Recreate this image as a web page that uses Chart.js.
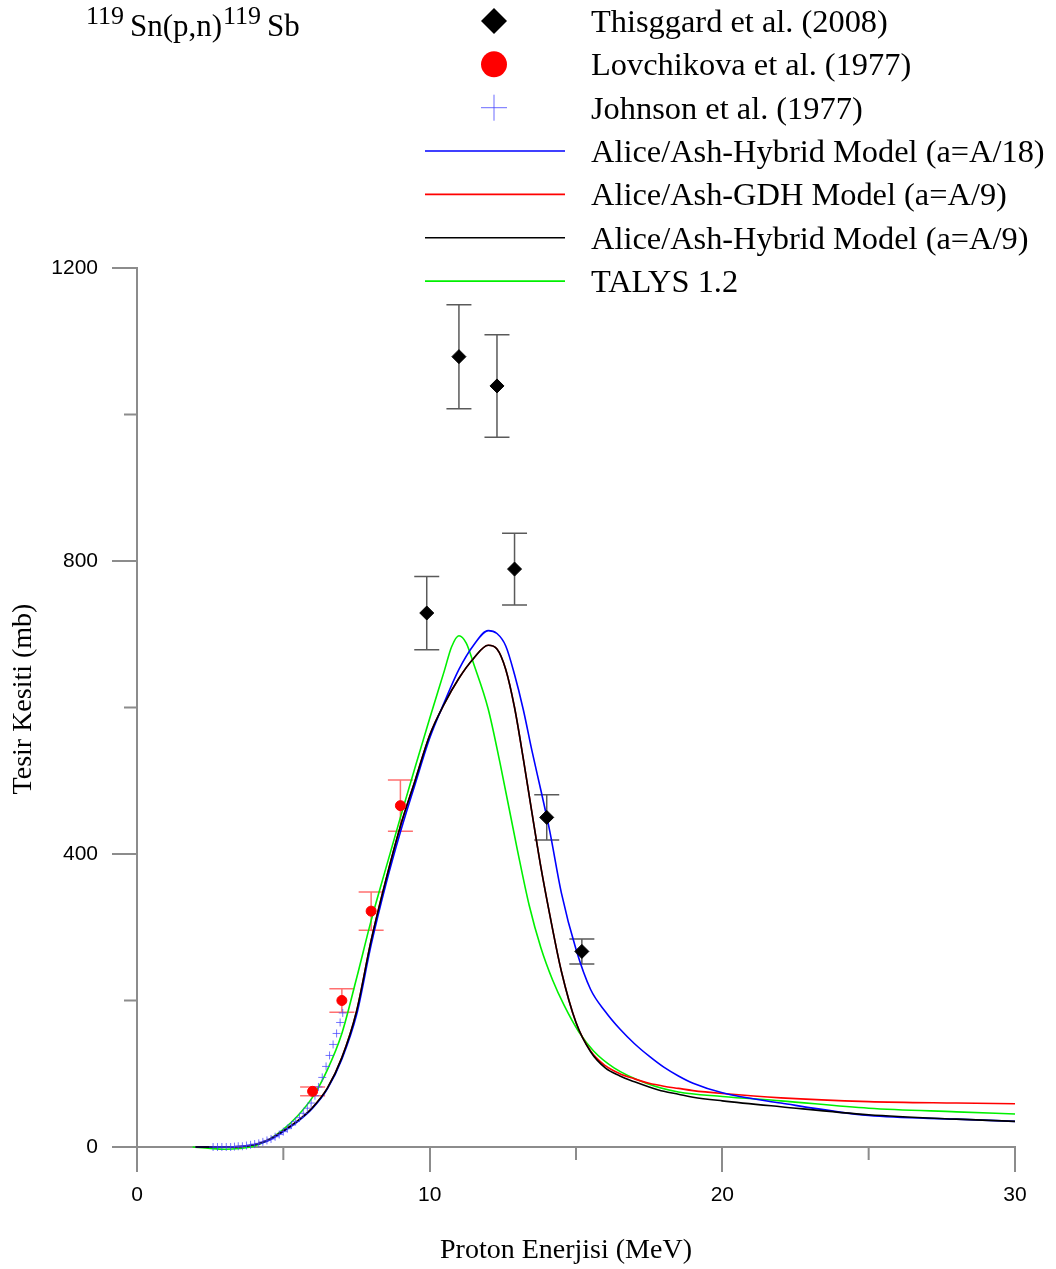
<!DOCTYPE html>
<html>
<head>
<meta charset="utf-8">
<script src="https://cdn.jsdelivr.net/npm/chart.js@4.4.0/dist/chart.umd.min.js"></script>
<style>
  body { margin: 0; background: #fff; }
  #wrap { width: 1056px; height: 1269px; position: relative; }
</style>
</head>
<body>
<div id="wrap"><canvas id="chart"></canvas></div>
<script>
// deney verileri
const thisE = [9.9, 11.0, 12.3, 12.9, 14.0, 15.2];
const thisS = [729, 1079, 1039, 789, 450, 267];
const thisErr = [50, 71, 70, 49, 31, 17];

const lovE = [6.0, 7.0, 8.0, 9.0];
const lovS = [76, 200, 322, 466];
const lovErr = [6, 16, 26, 35];

const johnE = [2.6, 2.75, 2.9, 3.05, 3.2, 3.33, 3.46, 3.6, 3.74, 3.88, 4.02, 4.16, 4.3, 4.44, 4.58, 4.72, 4.86,
  5.0, 5.14, 5.28, 5.42, 5.55, 5.68, 5.82, 5.95, 6.08, 6.2, 6.33, 6.46, 6.58, 6.7, 6.82, 6.94, 7.03];
const johnS = [0, 0, 0, 0, 0, 0.5, 1, 1, 2, 3, 4, 5, 7, 9, 11, 14, 17,
  21, 25, 30, 35, 40, 46, 53, 60, 70, 82, 95, 110, 125, 140, 155, 170, 183];

// model hesaplari
const modelE = [2, 3, 4, 4.5, 5, 5.5, 6, 6.5, 7, 7.5, 8, 8.5, 9, 9.5, 10, 10.5, 11, 11.5, 12, 12.3,
  12.6, 12.9, 13.2, 13.5, 13.8, 14.1, 14.5, 15, 15.5, 16, 16.5, 17, 17.5, 18, 18.5, 19, 20, 22, 25, 28, 30];
const hybrid18 = [0, 0, 3, 9, 21, 35, 53, 79, 120, 180, 276, 358, 430, 495, 558, 607, 652, 685, 705, 701,
  684, 645, 597, 540, 487, 432, 347, 270, 215, 185, 161, 141, 124, 109, 97, 87, 74, 60, 43, 38, 35];
const gdh9 = [0, 0, 3, 10, 22, 36, 54, 80, 122, 185, 282, 364, 438, 500, 562, 605, 640, 667, 685, 680,
  652, 600, 530, 455, 382, 318, 240, 170, 131, 111, 100, 93, 87, 83, 80, 77, 73, 67, 62, 60, 59];
const hybrid9 = [0, 0, 3, 10, 22, 36, 54, 80, 122, 185, 282, 364, 438, 500, 562, 605, 640, 667, 685, 680,
  652, 600, 530, 455, 382, 318, 240, 170, 130, 108, 97, 89, 82, 76, 72, 68, 63, 55, 44, 38, 35];

const talysE = [1.9, 2.5, 3, 3.5, 4, 4.5, 5, 5.5, 6, 6.5, 7, 7.5, 8, 8.5, 9, 9.5, 10, 10.5, 10.75, 11, 11.25, 11.5,
  12, 12.4, 13, 13.4, 13.8, 14.2, 14.6, 15.1, 15.6, 16.3, 17.4, 18.5, 20, 22, 25, 28, 30];
const talysS = [0, -2, -3, -2, 1, 10, 24, 43, 68, 105, 155, 230, 309, 380, 450, 518, 585, 650, 683, 698, 688, 660,
  598, 525, 405, 330, 272, 228, 193, 157, 131, 108, 87, 75, 69, 63, 53, 48, 45];

const xTicks = [0, 10, 20, 30];
const xMinor = [5, 15, 25];
const yTicks = [0, 400, 800, 1200];
const yMinor = [200, 600, 1000];

const SERIF = '"Liberation Serif", "Times New Roman", serif';
const SANS = '"Liberation Sans", Arial, sans-serif';
const AXIS_COLOR = '#8c8c8c';

function pts(xs, ys) {
    return xs.map((x, i) => ({ x: x, y: ys[i] }));
}

function lineSet(label, xs, ys, color) {
    return {
        type: 'line',
        label: label,
        data: pts(xs, ys),
        borderColor: color,
        backgroundColor: color,
        borderWidth: 1.6,
        pointRadius: 0,
        cubicInterpolationMode: 'monotone',
        clip: false
    };
}

// hata cubuklari
const errorBars = {
    id: 'errorBars',
    beforeDatasetsDraw(chart) {
        const ctx = chart.ctx;
        const xs = chart.scales.x, ys = chart.scales.y;
        const sets = [
            { e: thisE, s: thisS, d: thisErr, color: '#5a5a5a' },
            { e: lovE, s: lovS, d: lovErr, color: '#ff7070' }
        ];
        ctx.save();
        ctx.lineWidth = 1.5;
        sets.forEach(set => {
            ctx.strokeStyle = set.color;
            set.e.forEach((e, i) => {
                const px = xs.getPixelForValue(e);
                const top = ys.getPixelForValue(set.s[i] + set.d[i]);
                const bot = ys.getPixelForValue(set.s[i] - set.d[i]);
                ctx.beginPath();
                ctx.moveTo(px, top); ctx.lineTo(px, bot);
                ctx.moveTo(px - 12.5, top); ctx.lineTo(px + 12.5, top);
                ctx.moveTo(px - 12.5, bot); ctx.lineTo(px + 12.5, bot);
                ctx.stroke();
            });
        });
        ctx.restore();
    }
};

// ara cizgiler, basliklar ve lejant
const decorations = {
    id: 'decorations',
    afterDraw(chart) {
        const ctx = chart.ctx;
        const xs = chart.scales.x, ys = chart.scales.y;
        const area = chart.chartArea;
        ctx.save();

        ctx.strokeStyle = AXIS_COLOR;
        ctx.lineWidth = 2;
        ctx.beginPath();
        xMinor.forEach(v => {
            const px = xs.getPixelForValue(v);
            ctx.moveTo(px, area.bottom); ctx.lineTo(px, area.bottom + 13);
        });
        yMinor.forEach(v => {
            const py = ys.getPixelForValue(v);
            ctx.moveTo(area.left - 13, py); ctx.lineTo(area.left, py);
        });
        ctx.stroke();

        ctx.fillStyle = '#000';
        ctx.font = '28px ' + SERIF;
        ctx.textAlign = 'center';
        ctx.textBaseline = 'alphabetic';
        ctx.fillText('Proton Enerjisi (MeV)', 566, 1258);

        ctx.save();
        ctx.translate(31, 699);
        ctx.rotate(-Math.PI / 2);
        ctx.fillText('Tesir Kesiti (mb)', 0, 0);
        ctx.restore();

        // baslik
        ctx.textAlign = 'left';
        ctx.font = '26px ' + SERIF;
        ctx.fillText('119', 86, 24);
        ctx.fillText('119', 223, 24);
        ctx.font = '31px ' + SERIF;
        ctx.fillText('Sn(p,n)', 130, 36);
        ctx.fillText('Sb', 267, 36);

        // lejant
        const labels = [
            'Thisggard et al. (2008)',
            'Lovchikova et al. (1977)',
            'Johnson et al. (1977)',
            'Alice/Ash-Hybrid Model (a=A/18)',
            'Alice/Ash-GDH Model (a=A/9)',
            'Alice/Ash-Hybrid Model (a=A/9)',
            'TALYS 1.2'
        ];
        const lineColors = [null, null, null, '#0000ff', '#ff0000', '#000000', '#00f000'];
        const mx = 494;
        labels.forEach((txt, i) => {
            const y = 21 + i * 43.35;
            if (i === 0) {
                ctx.fillStyle = '#000';
                ctx.beginPath();
                ctx.moveTo(mx, y - 13); ctx.lineTo(mx + 13, y); ctx.lineTo(mx, y + 13); ctx.lineTo(mx - 13, y);
                ctx.closePath(); ctx.fill();
            } else if (i === 1) {
                ctx.fillStyle = '#ff0000';
                ctx.beginPath(); ctx.arc(mx, y, 13, 0, Math.PI * 2); ctx.fill();
            } else if (i === 2) {
                ctx.strokeStyle = 'rgba(70,70,255,0.8)';
                ctx.lineWidth = 1;
                ctx.beginPath();
                ctx.moveTo(mx - 13, y); ctx.lineTo(mx + 13, y);
                ctx.moveTo(mx, y - 13); ctx.lineTo(mx, y + 13);
                ctx.stroke();
            } else {
                ctx.strokeStyle = lineColors[i];
                ctx.lineWidth = 1.6;
                ctx.beginPath(); ctx.moveTo(425, y); ctx.lineTo(565, y); ctx.stroke();
            }
            ctx.fillStyle = '#000';
            ctx.font = '32.4px ' + SERIF;
            ctx.fillText(txt, 591, y + 11);
        });
        ctx.restore();
    }
};

document.addEventListener('DOMContentLoaded', function() {
    const ctx = document.getElementById('chart').getContext('2d');
    new Chart(ctx, {
        type: 'scatter',
        data: {
            datasets: [
                {
                    label: 'Thisggard et al. (2008)',
                    data: pts(thisE, thisS),
                    pointStyle: 'rectRot',
                    pointRadius: 7,
                    backgroundColor: '#000',
                    borderColor: '#000',
                    clip: false
                },
                {
                    label: 'Lovchikova et al. (1977)',
                    data: pts(lovE, lovS),
                    pointStyle: 'circle',
                    pointRadius: 5,
                    backgroundColor: '#ff0000',
                    borderColor: '#ff0000',
                    clip: false
                },
                {
                    label: 'Johnson et al. (1977)',
                    data: pts(johnE, johnS),
                    pointStyle: 'cross',
                    pointRadius: 4,
                    borderWidth: 1,
                    borderColor: 'rgba(70,70,255,0.75)',
                    clip: false
                },
                lineSet('Alice/Ash-Hybrid Model (a=A/9)', modelE, hybrid9, '#000000'),
                lineSet('Alice/Ash-Hybrid Model (a=A/18)', modelE, hybrid18, '#0000ff'),
                lineSet('Alice/Ash-GDH Model (a=A/9)', modelE, gdh9, '#ff0000'),
                lineSet('TALYS 1.2', talysE, talysS, '#00f000')
            ]
        },
        options: {
            responsive: true,
            maintainAspectRatio: false,
            animation: false,
            layout: { padding: { top: 268, right: 41, left: 0, bottom: 0 } },
            plugins: {
                legend: { display: false },
                tooltip: { enabled: false }
            },
            scales: {
                x: {
                    type: 'linear',
                    min: 0,
                    max: 30,
                    afterFit: s => { s.height = 122; },
                    afterBuildTicks: s => { s.ticks = xTicks.map(v => ({ value: v })); },
                    grid: { drawOnChartArea: false, tickLength: 25, color: AXIS_COLOR, lineWidth: 2 },
                    border: { color: AXIS_COLOR, width: 2 },
                    ticks: {
                        padding: 11, color: '#000', maxRotation: 0,
                        font: { family: SANS, size: 21 },
                        callback: v => String(v)
                    }
                },
                y: {
                    type: 'linear',
                    min: 0,
                    max: 1200,
                    afterFit: s => { s.width = 137; },
                    afterBuildTicks: s => { s.ticks = yTicks.map(v => ({ value: v })); },
                    grid: { drawOnChartArea: false, tickLength: 25, color: AXIS_COLOR, lineWidth: 2 },
                    border: { color: AXIS_COLOR, width: 2 },
                    ticks: {
                        padding: 14, color: '#000',
                        font: { family: SANS, size: 21 },
                        callback: v => String(v)
                    }
                }
            }
        },
        plugins: [errorBars, decorations]
    });
});
</script>
</body>
</html>
